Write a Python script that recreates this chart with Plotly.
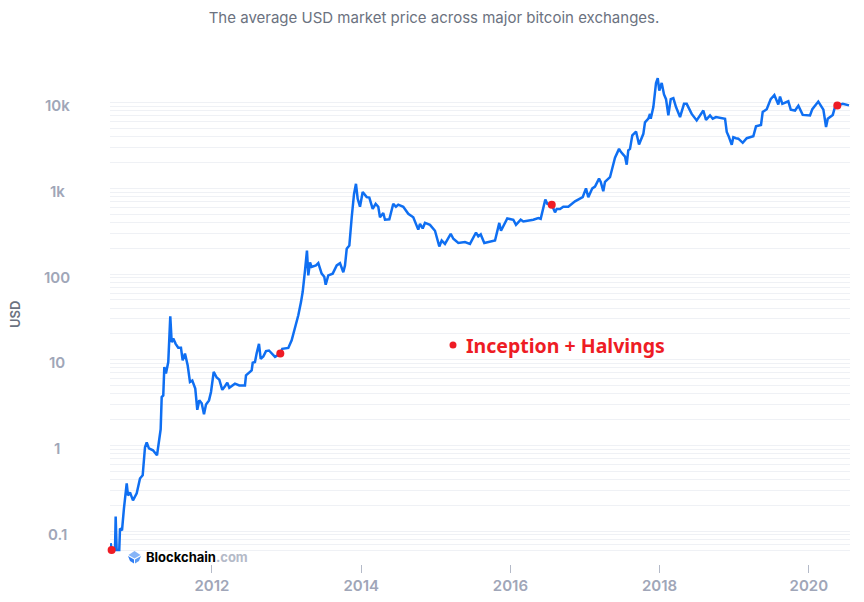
import math
import plotly.graph_objects as go

years = [2010.642, 2010.655, 2010.700, 2010.709, 2010.722, 2010.757, 2010.767, 2010.794, 2010.820, 2010.857,
         2010.874, 2010.901, 2010.941, 2010.991, 2011.035, 2011.071, 2011.102, 2011.125, 2011.155, 2011.209,
         2011.263, 2011.296, 2011.312, 2011.326, 2011.347, 2011.361, 2011.383, 2011.414, 2011.441, 2011.460,
         2011.481, 2011.513, 2011.548, 2011.584, 2011.607, 2011.638, 2011.674, 2011.705, 2011.736, 2011.776,
         2011.803, 2011.830, 2011.862, 2011.893, 2011.920, 2011.960, 2011.987, 2012.023, 2012.063, 2012.098,
         2012.138, 2012.174, 2012.205, 2012.232, 2012.308, 2012.366, 2012.442, 2012.456, 2012.532, 2012.546,
         2012.576, 2012.599, 2012.630, 2012.653, 2012.688, 2012.724, 2012.764, 2012.845, 2012.916, 2012.942,
         2013.023, 2013.068, 2013.113, 2013.157, 2013.193, 2013.216, 2013.247, 2013.273, 2013.291, 2013.314,
         2013.336, 2013.394, 2013.425, 2013.470, 2013.505, 2013.524, 2013.559, 2013.618, 2013.672, 2013.716,
         2013.760, 2013.783, 2013.806, 2013.841, 2013.873, 2013.904, 2013.930, 2013.953, 2013.984, 2014.020,
         2014.074, 2014.109, 2014.154, 2014.194, 2014.229, 2014.252, 2014.296, 2014.319, 2014.377, 2014.430,
         2014.466, 2014.497, 2014.564, 2014.631, 2014.698, 2014.765, 2014.788, 2014.824, 2014.855, 2014.922,
         2014.989, 2015.047, 2015.079, 2015.123, 2015.200, 2015.235, 2015.302, 2015.391, 2015.458, 2015.539,
         2015.570, 2015.602, 2015.650, 2015.727, 2015.794, 2015.851, 2015.874, 2015.958, 2016.039, 2016.075,
         2016.138, 2016.173, 2016.307, 2016.374, 2016.406, 2016.468, 2016.495, 2016.554, 2016.598, 2016.621,
         2016.665, 2016.709, 2016.776, 2016.866, 2016.969, 2017.013, 2017.044, 2017.098, 2017.134, 2017.188,
         2017.211, 2017.245, 2017.268, 2017.335, 2017.366, 2017.402, 2017.456, 2017.483, 2017.536, 2017.559,
         2017.580, 2017.603, 2017.634, 2017.684, 2017.724, 2017.782, 2017.804, 2017.849, 2017.871, 2017.881,
         2017.916, 2017.952, 2017.975, 2017.996, 2018.028, 2018.059, 2018.086, 2018.117, 2018.149, 2018.184,
         2018.220, 2018.274, 2018.327, 2018.363, 2018.430, 2018.497, 2018.586, 2018.622, 2018.676, 2018.712,
         2018.756, 2018.877, 2018.900, 2018.921, 2018.967, 2018.988, 2019.024, 2019.055, 2019.114, 2019.168,
         2019.256, 2019.292, 2019.359, 2019.382, 2019.436, 2019.489, 2019.538, 2019.591, 2019.614, 2019.645,
         2019.725, 2019.758, 2019.815, 2019.860, 2019.918, 2020.016, 2020.047, 2020.127, 2020.195, 2020.231,
         2020.254, 2020.321, 2020.351, 2020.382, 2020.455, 2020.539]
prices = [0.072, 0.06, 0.06, 0.148, 0.06, 0.06, 0.107, 0.102, 0.184, 0.36,
          0.26, 0.283, 0.228, 0.275, 0.41, 0.447, 0.95, 1.08, 0.92, 0.875,
          0.765, 1.14, 1.54, 3.66, 3.83, 8.2, 6.9, 9.4, 32, 16,
          17.7, 15.3, 13.8, 13.8, 9.8, 11.8, 8.6, 5.5, 5.7, 4.6,
          2.6, 3.35, 3.1, 2.3, 3.0, 3.35, 4.2, 7.2, 6.2, 5.85,
          4.45, 4.9, 5.4, 4.7, 5.25, 5.0, 5.0, 6.55, 7.5, 9.2,
          9.4, 11.9, 15.3, 10.2, 10.9, 12.6, 12.8, 10.8, 11.8, 13.4,
          13.7, 16.8, 23, 33, 47, 62, 110, 188, 96.5, 137,
          121, 126, 134, 101, 93, 75, 96.5, 101, 126, 134,
          105, 126, 197, 215, 460, 860, 1130, 755, 610, 905,
          790, 780, 575, 660, 610, 460, 515, 430, 435, 660,
          610, 645, 610, 505, 460, 330, 385, 340, 395, 375,
          320, 210, 246, 225, 295, 258, 230, 236, 225, 305,
          275, 290, 230, 236, 246, 395, 320, 445, 430, 375,
          430, 410, 430, 450, 440, 740, 660, 645, 525, 575,
          575, 610, 610, 705, 790, 1000, 790, 1000, 1050, 1300,
          1190, 925, 1190, 1350, 1760, 2280, 2890, 2650, 2350, 1890,
          2780, 2890, 4150, 4600, 3250, 4330, 5900, 6500, 7400, 6500,
          8900, 17000, 19300, 13800, 17000, 12500, 11000, 7100, 11000, 11300,
          8900, 6800, 9700, 9700, 7400, 6200, 8100, 6300, 7100, 6500,
          6800, 6500, 4550, 4150, 3230, 3950, 3850, 3800, 3400, 3850,
          4050, 5300, 5500, 7800, 8400, 11000, 12300, 9500, 11800, 9700,
          10400, 8300, 8100, 9200, 7200, 7100, 8400, 10300, 8300, 5200,
          6500, 7200, 8900, 9300, 9700, 9300]

halving_years = [2010.655, 2012.916, 2016.554, 2020.382]
halving_prices = [0.06, 11.8, 645, 9300]

x_ticks = [2012, 2014, 2016, 2018, 2020]
y_labels = [(0.1, '0.1'), (1, '1'), (10, '10'), (100, '100'), (1000, '1k'), (10000, '10k')]
grid_vals = [0.06, 0.07, 0.08, 0.09] + [m * 10 ** e for e in range(-1, 3 + 1) for m in range(1, 10)] + [10000]

GREY = '#a0a6b8'
RED = '#ee1c25'


# page pixels to paper coordinates (plot spans 110-850 across, 50-564 down)
def px(x):
    return (x - 110) / 740


def py(y):
    return (564 - y) / 514


line = go.Scatter(x=years, y=prices, mode='lines', line=dict(color='#0f6ff2', width=2.5), hoverinfo='skip')
dots = go.Scatter(x=halving_years, y=halving_prices, mode='markers', cliponaxis=False,
                  marker=dict(color=RED, size=8), hoverinfo='skip')

annotations = [
    dict(xref='paper', yref='y', x=px(57), y=math.log10(v), text=t, showarrow=False, yshift=-3, xanchor='center',
         font=dict(family='Inter', size=15, color=GREY, weight=600))
    for v, t in y_labels
]
annotations += [
    dict(xref='paper', yref='paper', x=px(15), y=py(315), text='USD', textangle=-90, showarrow=False,
         xanchor='center', yanchor='middle', font=dict(family='Inter', size=13, color='#6b7280', weight=600)),
    dict(xref='paper', yref='paper', x=px(464), y=py(345), xanchor='left', yanchor='middle',
         text='Inception + Halvings', showarrow=False,
         font=dict(family='Noto Sans', size=19.5, color=RED, weight=700)),
    dict(xref='paper', yref='paper', x=px(144), y=py(557), xanchor='left', yanchor='middle', showarrow=False,
         text='<b>Blockchain</b><span style="color:#b4bac8"><b>.com</b></span>',
         font=dict(family='Inter', size=13, color='#000000')),
]


def logo_path(points):
    coords = [(px(x), py(y)) for x, y in points]
    return 'M' + ' L'.join('%f,%f' % c for c in coords) + ' Z'


logo = [
    ([(134.5, 551), (140.5, 555), (134.5, 558.5), (128.5, 555)], '#85b4f7'),
    ([(128, 556), (134, 559.5), (134, 563.5), (130, 561)], '#2f7df3'),
    ([(141, 556), (135, 559.5), (135, 563.5), (139, 561)], '#5b9bf5'),
]
shapes = [dict(type='path', xref='paper', yref='paper', path=logo_path(p), fillcolor=c, line=dict(width=0))
          for p, c in logo]
shapes.append(dict(type='circle', xref='paper', yref='paper', x0=px(449.5), x1=px(456.5), y0=py(348.5), y1=py(341.5),
                   fillcolor=RED, line=dict(width=0)))

# the page body has an 8px margin all round, so the figure has to be 16px smaller
layout = dict(
    width=848,
    height=586,
    margin=dict(l=102, r=6, t=42, b=30),
    paper_bgcolor='white',
    plot_bgcolor='white',
    showlegend=False,
    title=dict(text='The average USD market price across major bitcoin exchanges.', x=426 / 848, xanchor='center',
               y=1 - 10 / 586, yanchor='middle', font=dict(family='Inter', size=15, color='#6b7280')),
    xaxis=dict(range=[2010.633, 2020.552], tickvals=x_ticks, ticktext=[str(t) for t in x_ticks], showgrid=False,
               automargin=False, zeroline=False, ticks='outside', ticklen=8, tickcolor='#b4bac8', tickwidth=1,
               tickfont=dict(family='Inter', size=15, color=GREY, weight=600)),
    yaxis=dict(type='log', range=[-1.385, 4.615], tickvals=grid_vals, showticklabels=False, showgrid=True,
               automargin=False, gridcolor='#eff1f5', gridwidth=1, zeroline=False, ticks=''),
    annotations=annotations,
    shapes=shapes,
)

fig = go.Figure(data=[line, dots], layout=layout)
fig.write_html('out.html')
